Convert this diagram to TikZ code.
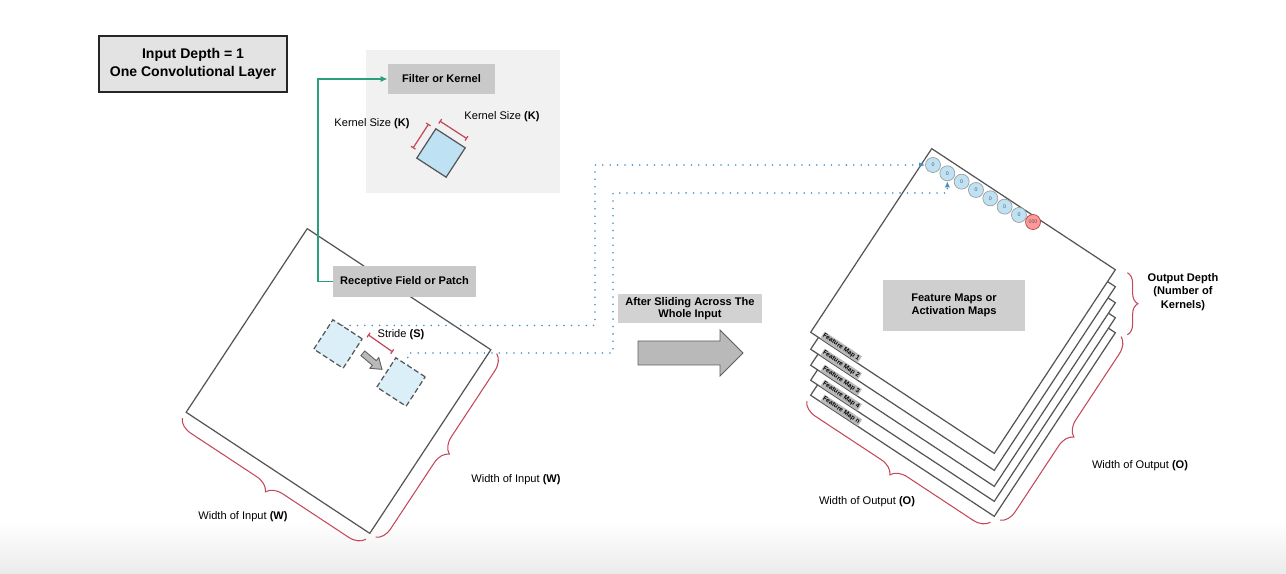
\documentclass[tikz,border=0pt]{standalone}
\usepackage{fontspec}
\setmainfont{Liberation Sans}
\usetikzlibrary{positioning, calc, arrows.meta, decorations.pathreplacing}

\definecolor{mapblue}{RGB}{190,226,244}
\definecolor{dotblue}{RGB}{70,145,195}
\definecolor{linkgreen}{RGB}{40,160,125}
\definecolor{bracered}{RGB}{196,72,90}
\definecolor{edgegray}{RGB}{85,85,85}

\newcommand{\lbl}{\fontsize{6.3}{7.6}\selectfont}

\begin{document}
\begin{tikzpicture}[x=0.02cm, y=-0.02cm,
	sheet/.style={draw=edgegray, line width=0.7pt, fill=white, minimum size=4.4cm, inner sep=0pt, outer sep=0pt, rotate=-33.4},
	patch/.style={draw=edgegray, line width=0.7pt, dash pattern=on 3pt off 1.6pt, fill=mapblue!55, minimum size=0.7cm, inner sep=0pt, rotate=-33},
	tag/.style={fill=gray!42, font=\lbl\bfseries, inner sep=0pt, align=center},
	maptag/.style={fill=gray!55, font=\fontsize{3.6}{4}\selectfont\bfseries, inner sep=0.6pt, rotate=-33.4, anchor=south west},
	note/.style={font=\lbl, inner sep=0pt, align=center},
	cell/.style={circle, draw=gray!75, fill=mapblue, minimum size=0.3cm, inner sep=0pt, font=\fontsize{3}{3}\selectfont, text=gray!70!black},
	link/.style={dotblue, line width=1pt, line cap=round, dash pattern=on 0pt off 4.2pt, -{Latex[length=3.5pt, width=3pt]}},
	widthbrace/.style={bracered, line width=0.6pt, decorate, decoration={brace, amplitude=9pt, raise=4pt}},
	sizemark/.style={bracered, line width=0.7pt, {Bar[width=3pt]}-{Bar[width=3pt]}}
]

	\useasboundingbox (0,0) rectangle (1286,574);
	\fill[white] (0,0) rectangle (1286,574);
	\fill[top color=white, bottom color=gray!16] (0,522) rectangle (1286,574);

	\fill[gray!11] (366,50) rectangle (560,193);
	\node[tag, minimum width=2.14cm, minimum height=0.6cm] (filter) at (441.5,79) {Filter or Kernel};
	\node[draw=edgegray, line width=0.7pt, fill=mapblue, minimum size=0.7cm, inner sep=0pt, rotate=-33] (kernel) at (441,153) {};
	\draw[sizemark] ($(kernel.south west)!0.2!(kernel.north west)+(-7,-4)$) -- ($(kernel.north west)+(-7,-4)$);
	\draw[sizemark] ($(kernel.north west)+(4,-7)$) -- ($(kernel.north west)!0.9!(kernel.north east)+(4,-7)$);
	\node[note] (ksl) at (372,124) {Kernel Size \textbf{(K)}};
	\node[note] (ksr) at (502,117) {Kernel Size \textbf{(K)}};

	\node[tag, draw=black!85, line width=1.3pt, fill=gray!22, minimum width=3.76cm, minimum height=1.12cm, font=\fontsize{8}{10}\selectfont\bfseries] (title) at (193,64) {Input Depth = 1\\One Convolutional Layer};

	\node[sheet] (input) at (338.5,381) {};
	\node[tag, minimum width=2.86cm, minimum height=0.62cm] (recep) at (404.5,281.5) {Receptive Field or Patch};
	\draw[linkgreen, line width=1.1pt, -{Latex[length=4pt, width=3.5pt]}] (recep.west) -- ++(-15,0) |- (filter.west);

	\node[patch] (p1) at (338,344) {};
	\node[patch] (p2) at (401,382) {};
	\draw[sizemark] ($(p1.north east)+(5,-4)$) -- ($(p2.north west)+(-3,-5)$);
	\node[note] (stride) at (401,335) {Stride \textbf{(S)}};
	\begin{scope}[shift={(372,361)}, rotate=-40]
		\draw[fill=gray!55, draw=gray!75!black, line width=0.5pt] (-12,-3) -- (3,-3) -- (3,-7) -- (13,0) -- (3,7) -- (3,3) -- (-12,3) -- cycle;
	\end{scope}

	\draw[widthbrace] (input.south east) -- (input.south west);
	\draw[widthbrace] (input.north east) -- (input.south east);
	\node[note] (winl) at (243,517) {Width of Input \textbf{(W)}};
	\node[note] (winr) at (516,480) {Width of Input \textbf{(W)}};

	\node[tag, fill=gray!35, minimum width=2.88cm, minimum height=0.6cm, font=\fontsize{6.3}{7.2}\selectfont\bfseries] (slide) at (690,308.5) {After Sliding Across The\\Whole Input};
	\draw[fill=gray!55, draw=gray!75!black, line width=0.5pt] (638,341) -- (720,341) -- (720,330) -- (743,353) -- (720,376) -- (720,365) -- (638,365) -- cycle;

	\foreach \i/\d in {4/63,3/48,2/33,1/17,0/0}
		\node[sheet] (fm\i) at (963,{301+\d}) {};
	\foreach \i/\t in {0/1,1/2,2/3,3/4,4/n}
		\node[maptag] (t\i) at ($(fm\i.south west)!0.22cm!(fm\i.south east)$) {Feature Map \t};
	\node[tag, fill=gray!38, minimum width=2.84cm, minimum height=1.02cm] (fmbox) at (954,305.5) {Feature Maps or\\Activation Maps};

	\foreach \i in {0,...,6}
		\node[cell] (c\i) at ({933+14.33*\i},{165+8.33*\i}) {0};
	\node[cell, fill=red!40, draw=red!45!gray] (c7) at (1033,222) {000};

	\coordinate (k1) at (595,240);
	\coordinate (k2) at (613,193);
	\draw[link] ($(p1.north west)!0.33!(p1.north east)$) -| (k1) |- (c0.west);
	\draw[link] ($(p2.north west)!0.4!(p2.north east)$) |- (613,353) -- (k2) -| (c1.south);

	\draw[widthbrace] (fm4.south east) -- (fm4.south west);
	\draw[widthbrace] (fm4.north east) -- (fm4.south east);
	\draw[widthbrace, decoration={brace, amplitude=6pt, raise=0pt}] ($(fm0.north east)+(12,3)$) -- ($(fm4.north east)+(12,2)$);
	\node[note] (woutl) at (867,502) {Width of Output \textbf{(O)}};
	\node[note] (woutr) at (1140,466) {Width of Output \textbf{(O)}};
	\node[note, font=\fontsize{6.3}{7.7}\selectfont\bfseries] (depth) at (1183,292) {Output Depth\\(Number of\\Kernels)};

\end{tikzpicture}
\end{document}
